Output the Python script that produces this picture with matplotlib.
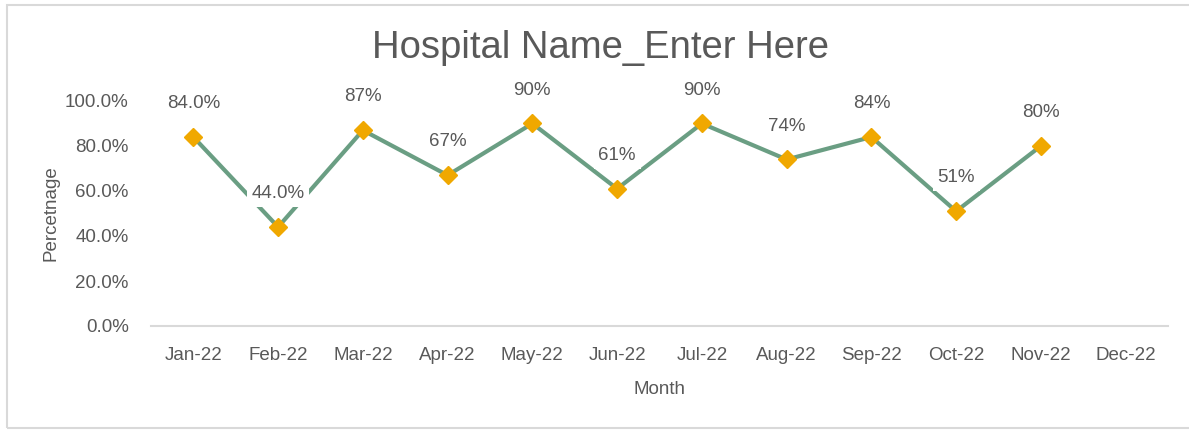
import matplotlib.pyplot as plt
from matplotlib.patches import Rectangle
import numpy as np

plt.rcParams['font.family'] = ['Liberation Sans Narrow', 'Liberation Sans', 'DejaVu Sans']

# data
months = ['Jan-22', 'Feb-22', 'Mar-22', 'Apr-22', 'May-22', 'Jun-22',
          'Jul-22', 'Aug-22', 'Sep-22', 'Oct-22', 'Nov-22', 'Dec-22']
values = [0.84, 0.44, 0.87, 0.67, 0.90, 0.61, 0.90, 0.74, 0.84, 0.51, 0.80]
labels = ['84.0%', '44.0%', '87%', '67%', '90%', '61%', '90%', '74%', '84%', '51%', '80%']

text_col = '#595959'
line_col = '#6a9e83'
marker_col = '#f0a800'

W, H = 1189, 430
fig = plt.figure(figsize=(W / 100, H / 100), dpi=100)
ax = fig.add_axes([151 / W, 1 - 326 / H, (1168 - 151) / W, 225 / H])

x = np.arange(len(values))
ax.plot(x, values, color=line_col, lw=3, zorder=2)
ax.plot(x, values, 'D', color=marker_col, markersize=9, zorder=4)

for xi, v, lab in zip(x, values, labels):
    ax.annotate(lab, (xi, v), xytext=(0, 24), textcoords='offset points',
                ha='center', va='center', fontsize=13.5, color=text_col,
                bbox=dict(boxstyle='square,pad=0.25', fc='white', ec='none'),
                zorder=5)

ax.set_xlim(-0.5, len(months) - 0.5)
ax.set_ylim(0, 1.0)
ax.set_xticks(np.arange(len(months)))
ax.set_xticklabels(months)
ax.set_yticks(np.arange(0, 1.01, 0.2))
ax.set_yticklabels(['%.1f%%' % (t * 100) for t in np.arange(0, 1.01, 0.2)])
ax.tick_params(length=0, labelsize=13.5, colors=text_col)
ax.tick_params(axis='x', pad=15)
ax.tick_params(axis='y', pad=16)

for s in ['top', 'right', 'left']:
    ax.spines[s].set_visible(False)
ax.spines['bottom'].set_color('#d9d9d9')
ax.spines['bottom'].set_linewidth(1.5)

ax.set_xlabel('Month', fontsize=13.5, color=text_col, labelpad=12)
ax.set_ylabel('Percetnage', fontsize=13.5, color=text_col, labelpad=4)

fig.text(601 / W, 1 - 48 / H, 'Hospital Name_Enter Here', ha='center', va='center',
         fontsize=27.5, color=text_col)

fig.patches.append(Rectangle((7 / W, 1 - 428 / H), 1.0, (428 - 5) / H,
                             transform=fig.transFigure, fill=False,
                             ec='#d9d9d9', lw=1.5))

fig.savefig('out.png', dpi=100)
